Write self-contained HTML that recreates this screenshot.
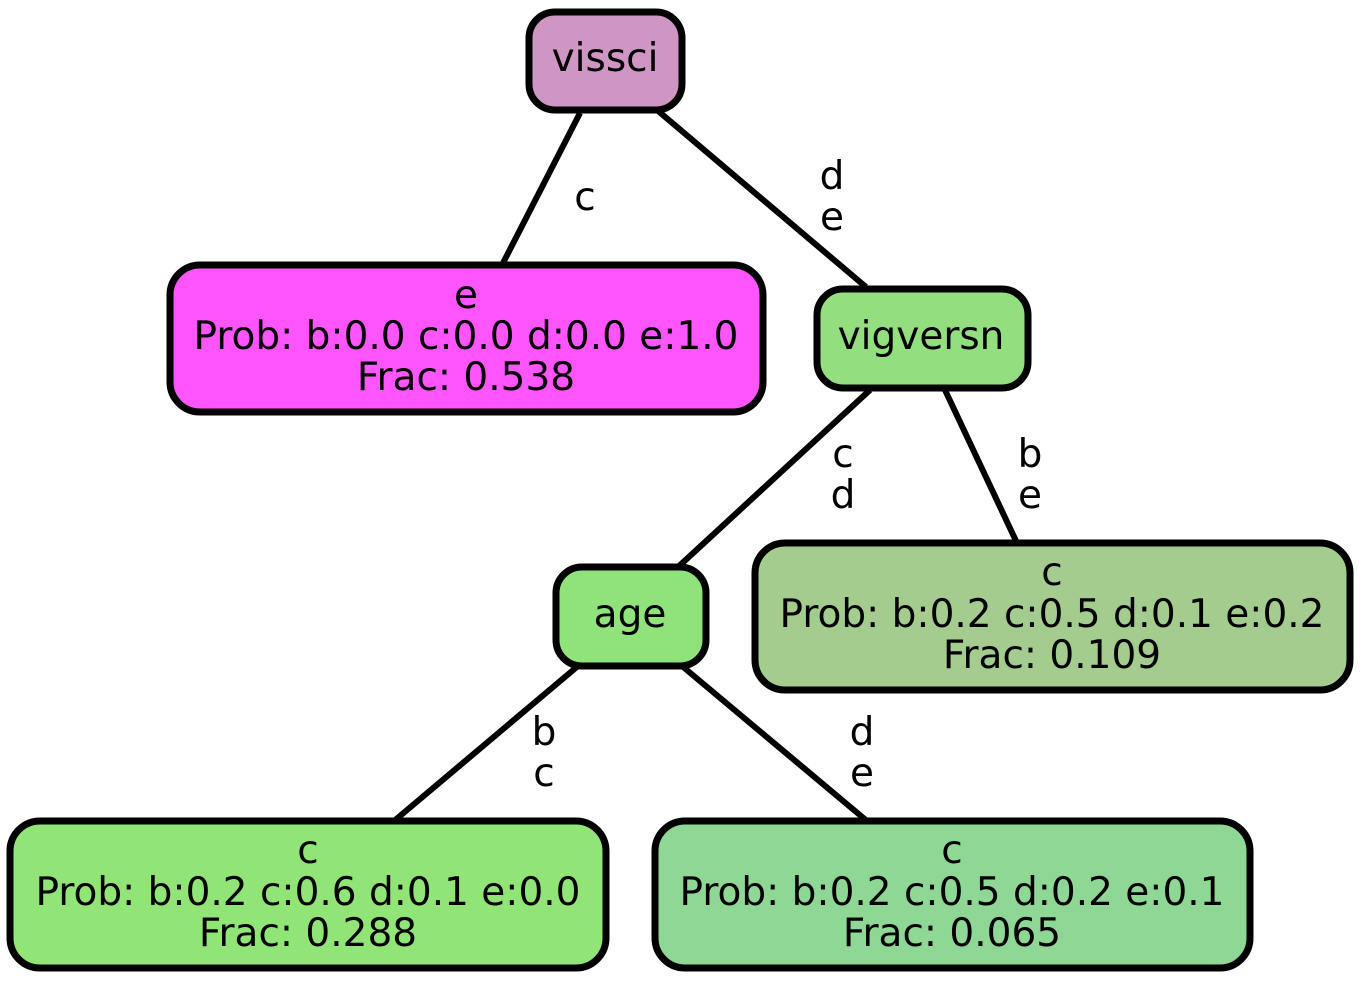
<!DOCTYPE html>
<html><head><meta charset="utf-8"><style>html,body{margin:0;padding:0;background:#fff}svg{display:block}</style></head>
<body>
<svg width="1361" height="981" xmlns="http://www.w3.org/2000/svg" font-family="DejaVu Sans, Liberation Sans, sans-serif" font-size="39" text-anchor="middle">
<g stroke="#000" stroke-width="6" fill="none">
<line x1="580" y1="113" x2="502" y2="265"/>
<line x1="657" y1="110" x2="866" y2="287"/>
<line x1="870" y1="390" x2="678" y2="567"/>
<line x1="945" y1="390" x2="1017" y2="543"/>
<line x1="578" y1="666" x2="394" y2="821"/>
<line x1="682" y1="666" x2="867" y2="821"/>
</g>
<g stroke="#000" stroke-width="7">
<rect x="529" y="12" width="153" height="98" rx="26" fill="#CF96C4"/>
<rect x="170" y="265" width="593" height="147" rx="30" fill="#FF55FF"/>
<rect x="817" y="289" width="211" height="99" rx="26" fill="#93DF7F"/>
<rect x="556" y="567" width="150" height="99" rx="26" fill="#8FE37A"/>
<rect x="755" y="543" width="595" height="147" rx="30" fill="#A3CC8E"/>
<rect x="10" y="821" width="596" height="147" rx="30" fill="#91E476"/>
<rect x="655" y="821" width="595" height="147" rx="30" fill="#8ED795"/>
</g>
<g fill="#000">
<text x="605" y="71">vissci</text>
<text x="466" y="308">e</text>
<text x="466" y="349">Prob: b:0.0 c:0.0 d:0.0 e:1.0</text>
<text x="466" y="390">Frac: 0.538</text>
<text x="921" y="349">vigversn</text>
<text x="630" y="627">age</text>
<text x="1052" y="585">c</text>
<text x="1052" y="627">Prob: b:0.2 c:0.5 d:0.1 e:0.2</text>
<text x="1052" y="668">Frac: 0.109</text>
<text x="308" y="863">c</text>
<text x="308" y="905">Prob: b:0.2 c:0.6 d:0.1 e:0.0</text>
<text x="308" y="946">Frac: 0.288</text>
<text x="952" y="863">c</text>
<text x="952" y="905">Prob: b:0.2 c:0.5 d:0.2 e:0.1</text>
<text x="952" y="946">Frac: 0.065</text>
<text x="585" y="210">c</text>
<text x="832" y="189">d</text><text x="832" y="230">e</text>
<text x="843" y="467">c</text><text x="843" y="508">d</text>
<text x="1030" y="467">b</text><text x="1030" y="508">e</text>
<text x="544" y="745">b</text><text x="544" y="786">c</text>
<text x="862" y="745">d</text><text x="862" y="786">e</text>
</g>
</svg>
</body></html>
